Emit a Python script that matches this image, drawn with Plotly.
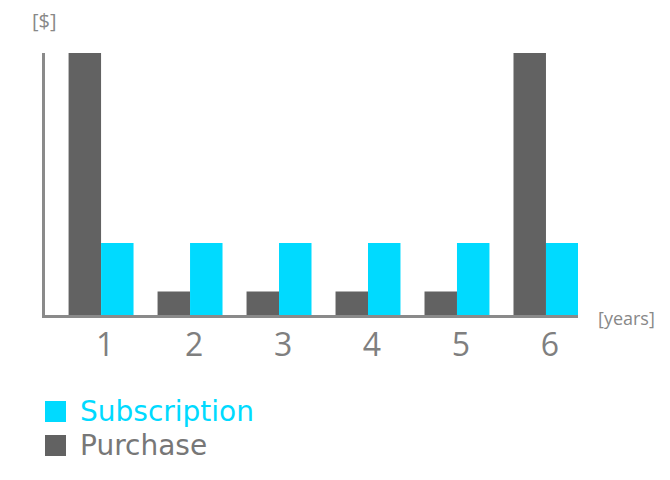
import plotly.graph_objects as go

years = [1, 2, 3, 4, 5, 6]
year_labels = ["1", "2", "3", "4", "5", "6"]
purchase = [1000, 90, 90, 90, 90, 1000]
subscription = [275, 275, 275, 275, 275, 275]

CYAN = "#00DAFF"
DARK = "#626262"
AXIS = "#8a8a8a"

# page body adds an 8px offset, so everything is placed 8px up/left
OFF = 8
# the year labels sit a few px right of the bar-pair centre in the original
LABEL_NUDGE = 0.045

fig = go.Figure()
fig.add_trace(go.Bar(x=years, y=purchase, name="Purchase", marker_color=DARK,
                     marker_line_width=0))
fig.add_trace(go.Bar(x=years, y=subscription, name="Subscription", marker_color=CYAN,
                     marker_line_width=0))

# plot area spans x 45..578, y 53..315 px in the reference
fig.update_layout(
    width=670 - OFF, height=480 - OFF,
    margin=dict(l=45 - OFF, r=670 - 578, t=53 - OFF, b=480 - 315),
    paper_bgcolor="white", plot_bgcolor="white",
    barmode="group", bargap=0.27, bargroupgap=0,
    showlegend=False,
    xaxis=dict(
        range=[0.37, 6.36], tickvals=[y + LABEL_NUDGE for y in years], ticktext=year_labels,
        showline=True, linecolor=AXIS, linewidth=3, showgrid=False, zeroline=False,
        ticks="", ticklabelstandoff=0,
        tickfont=dict(family="Open Sans", size=32, color="#7f7f7f"),
    ),
    yaxis=dict(
        range=[0, 1000], showline=True, linecolor=AXIS, linewidth=3,
        showgrid=False, zeroline=False, showticklabels=False, ticks="",
    ),
)


def px_x(p):
    return (p - 45) / 533


def px_y(p):
    return (315 - p) / 262


fig.add_annotation(text="[$]", xref="paper", yref="paper", x=px_x(44), y=px_y(20),
                   xanchor="center", yanchor="middle", showarrow=False,
                   font=dict(family="Open Sans", size=20, color="#888888"))
fig.add_annotation(text="[years]", xref="paper", yref="paper", x=px_x(626), y=px_y(318),
                   xanchor="center", yanchor="middle", showarrow=False,
                   font=dict(family="Open Sans", size=18, color="#888888"))

# legend drawn by hand: big squares + labels
legend_items = [("Subscription", CYAN, CYAN, 401, 422), ("Purchase", DARK, "#777777", 435, 456)]
for label, sq_color, txt_color, y0, y1 in legend_items:
    fig.add_shape(type="rect", xref="paper", yref="paper",
                  x0=px_x(45), x1=px_x(66), y0=px_y(y1), y1=px_y(y0),
                  fillcolor=sq_color, line_width=0)
    fig.add_annotation(text=label, xref="paper", yref="paper", x=px_x(78),
                       y=px_y((y0 + y1) / 2), xanchor="left", yanchor="middle",
                       showarrow=False,
                       font=dict(family="DejaVu Sans", size=28, color=txt_color))

fig.write_html("out.html")
